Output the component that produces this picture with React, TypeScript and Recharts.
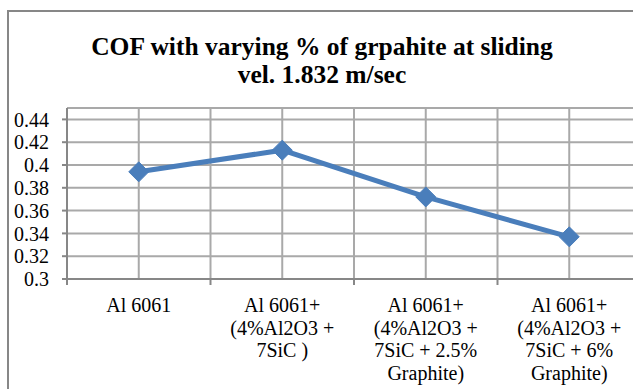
import React from 'react';
import { LineChart, Line, XAxis, YAxis, CartesianGrid } from 'recharts';

const categoryLabels: string[][] = [
  ['Al 6061'],
  ['Al 6061+', '(4%Al2O3 +', '7SiC )'],
  ['Al 6061+', '(4%Al2O3 +', '7SiC + 2.5%', 'Graphite)'],
  ['Al 6061+', '(4%Al2O3 +', '7SiC + 6%', 'Graphite)'],
];
const cofValues = [0.394, 0.413, 0.372, 0.337];
const yTicks = [0.3, 0.32, 0.34, 0.36, 0.38, 0.4, 0.42, 0.44];
const xTicks = [0, 0.5, 1, 1.5, 2, 2.5, 3, 3.5, 4];
const titleLines = ['COF with varying % of grpahite at sliding', 'vel. 1.832 m/sec'];

const data = cofValues.map((v, i) => ({ x: i + 0.5, cof: v }));

const FONT = 'Liberation Serif, Tinos, Times, DejaVu Serif';
const LINE_COLOR = '#4a7ebb';
const GRID = '#a9a9a9';
const AXIS = '#878787';

const XTick = (props: any) => {
  const { x, y, payload } = props;
  const v = payload.value as number;
  if (Number.isInteger(v)) {
    return <line x1={x} x2={x} y1={y} y2={y + 6} stroke={AXIS} strokeWidth={2} />;
  }
  const idx = Math.floor(v);
  const lines = categoryLabels[idx] || [];
  return (
    <text x={x} y={y + 33} textAnchor="middle" style={{ fontFamily: FONT }} fontSize={20} fill="#000">
      {lines.map((l, i) => (
        <tspan key={i} x={x} dy={i === 0 ? 0 : 22.5}>
          {l}
        </tspan>
      ))}
    </text>
  );
};

const Diamond = (props: any) => {
  const { cx, cy } = props;
  if (cx == null || cy == null) return null;
  const r = 10;
  return (
    <polygon
      points={`${cx},${cy - r} ${cx + r},${cy} ${cx},${cy + r} ${cx - r},${cy}`}
      fill={LINE_COLOR}
      stroke={LINE_COLOR}
    />
  );
};

export default function App() {
  return (
    <div
      style={{
        position: 'fixed',
        left: 0,
        top: 0,
        width: 633,
        height: 389,
        overflow: 'hidden',
        background: '#fff',
      }}
    >
      <div
        style={{
          position: 'absolute',
          left: 7,
          top: 10,
          width: 800,
          height: 600,
          borderLeft: `2px solid ${AXIS}`,
          borderTop: `2px solid ${AXIS}`,
        }}
      />
      <div
        style={{
          position: 'absolute',
          left: 322 - 300,
          top: 33,
          width: 600,
          textAlign: 'center',
          fontFamily: FONT,
          fontWeight: 'bold',
          fontSize: 25.5,
          lineHeight: '28px',
          color: '#000',
        }}
      >
        {titleLines.map((t, i) => (
          <div key={i}>{t}</div>
        ))}
      </div>
      <div style={{ position: 'absolute', left: 0, top: 0 }}>
        <LineChart
          width={660}
          height={389}
          data={data}
          margin={{ top: 108, right: 19, bottom: 0, left: 0 }}
        >
          <CartesianGrid stroke={GRID} strokeWidth={2} />
          <XAxis
            type="number"
            dataKey="x"
            domain={[0, 4]}
            ticks={xTicks}
            interval={0}
            height={110}
            tickLine={false}
            tickSize={0}
            tickMargin={0}
            axisLine={{ stroke: AXIS, strokeWidth: 2 }}
            tick={<XTick />}
          />
          <YAxis
            type="number"
            domain={[0.3, 0.45]}
            ticks={yTicks}
            interval={0}
            width={67}
            tickSize={5}
            tickMargin={13}
            axisLine={{ stroke: AXIS, strokeWidth: 2 }}
            tickLine={{ stroke: AXIS, strokeWidth: 2 }}
            tick={{ style: { fontFamily: FONT }, fontSize: 20, fill: '#000' }}
            allowDataOverflow
          />
          <Line
            type="linear"
            dataKey="cof"
            stroke={LINE_COLOR}
            strokeWidth={5}
            dot={<Diamond />}
            activeDot={false}
            isAnimationActive={false}
          />
        </LineChart>
      </div>
    </div>
  );
}
